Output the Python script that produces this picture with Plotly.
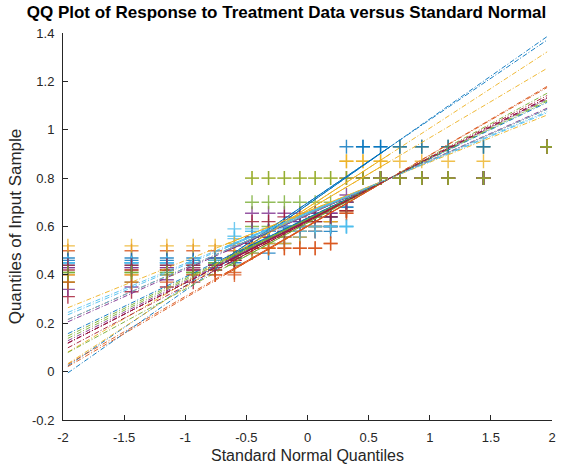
import plotly.graph_objects as go
from statistics import NormalDist

# ---- data: 21 sample columns (20 sorted values each) ----
s00 = [0.46,0.46,0.46,0.46,0.46,0.47,0.49,0.49,0.53,0.556,0.58,0.58,0.93,0.93,0.93,0.93,0.93,0.93,0.93,0.93]
s01 = [0.40,0.40,0.40,0.40,0.40,0.41,0.51,0.51,0.51,0.51,0.51,0.53,0.655,0.80,0.80,0.80,0.80,0.80,0.80,0.93]
s02 = [0.37,0.40,0.42,0.44,0.45,0.46,0.49,0.51,0.53,0.556,0.58,0.60,0.87,0.87,0.87,0.93,0.93,0.93,0.93,0.93]
s03 = [0.43,0.43,0.43,0.43,0.47,0.52,0.556,0.58,0.60,0.60,0.62,0.64,0.70,0.80,0.80,0.80,0.80,0.80,0.80,0.93]
s04 = [0.41,0.41,0.41,0.41,0.46,0.47,0.60,0.60,0.60,0.60,0.62,0.62,0.665,0.80,0.80,0.80,0.80,0.80,0.80,0.93]
s05 = [0.44,0.44,0.44,0.44,0.44,0.59,0.59,0.59,0.59,0.60,0.60,0.60,0.60,0.80,0.80,0.80,0.80,0.80,0.80,0.93]
s06 = [0.31,0.33,0.35,0.37,0.43,0.47,0.53,0.556,0.556,0.58,0.58,0.60,0.70,0.80,0.80,0.80,0.80,0.80,0.80,0.93]
s07 = [0.45,0.45,0.45,0.45,0.45,0.45,0.51,0.53,0.556,0.58,0.60,0.60,0.68,0.93,0.93,0.93,0.93,0.93,0.93,0.93]
s08 = [0.50,0.50,0.50,0.50,0.50,0.50,0.556,0.58,0.58,0.60,0.60,0.62,0.665,0.80,0.80,0.80,0.80,0.80,0.80,0.93]
s09 = [0.40,0.42,0.42,0.43,0.45,0.48,0.51,0.53,0.556,0.58,0.60,0.62,0.87,0.87,0.87,0.87,0.87,0.87,0.87,0.93]
s10 = [0.34,0.35,0.38,0.42,0.44,0.47,0.655,0.655,0.655,0.655,0.655,0.655,0.73,0.80,0.80,0.80,0.80,0.80,0.80,0.93]
s11 = [0.37,0.37,0.40,0.41,0.42,0.44,0.70,0.70,0.70,0.70,0.70,0.70,0.70,0.80,0.80,0.80,0.80,0.80,0.80,0.93]
s12 = [0.45,0.45,0.45,0.45,0.45,0.55,0.58,0.58,0.58,0.58,0.58,0.60,0.60,0.80,0.80,0.80,0.80,0.80,0.80,0.93]
s13 = [0.42,0.42,0.42,0.42,0.42,0.46,0.53,0.556,0.58,0.60,0.62,0.64,0.665,0.80,0.80,0.80,0.80,0.80,0.80,0.93]
s14 = [0.47,0.47,0.47,0.47,0.47,0.47,0.556,0.58,0.60,0.62,0.64,0.64,0.68,0.80,0.80,0.80,0.80,0.80,0.80,0.93]
s15 = [0.37,0.37,0.37,0.40,0.40,0.40,0.51,0.51,0.51,0.51,0.51,0.53,0.655,0.80,0.80,0.80,0.80,0.80,0.80,0.93]
s16 = [0.52,0.52,0.52,0.52,0.52,0.53,0.80,0.80,0.80,0.80,0.80,0.80,0.80,0.80,0.80,0.80,0.80,0.80,0.80,0.93]
s17 = [0.43,0.43,0.43,0.43,0.44,0.46,0.556,0.58,0.60,0.62,0.655,0.655,0.70,0.80,0.80,0.80,0.80,0.80,0.80,0.93]
s18 = [0.41,0.41,0.41,0.41,0.45,0.47,0.80,0.80,0.80,0.80,0.80,0.80,0.80,0.80,0.80,0.80,0.80,0.80,0.80,0.93]
s19 = [0.45,0.45,0.45,0.45,0.46,0.56,0.58,0.58,0.60,0.60,0.60,0.60,0.60,0.80,0.80,0.80,0.80,0.80,0.80,0.93]
s20 = [0.44,0.44,0.44,0.44,0.44,0.46,0.62,0.62,0.64,0.64,0.64,0.64,0.80,0.80,0.80,0.80,0.80,0.80,0.80,0.93]
series = [s00,s01,s02,s03,s04,s05,s06,s07,s08,s09,s10,s11,s12,s13,s14,s15,s16,s17,s18,s19,s20]

colors = ["#0072BD","#D95319","#EDB120","#7E2F8E","#77AC30","#4DBEEE","#A2142F"]

x_ticks = [-2,-1.5,-1,-0.5,0,0.5,1,1.5,2]
x_ticktext = ["-2","-1.5","-1","-0.5","0","0.5","1","1.5","2"]
y_ticks = [-0.2,0,0.2,0.4,0.6,0.8,1,1.2,1.4]
y_ticktext = ["-0.2","0","0.2","0.4","0.6","0.8","1","1.2","1.4"]

title_text = "QQ Plot of Response to Treatment Data versus Standard Normal"
xlabel = "Standard Normal Quantiles"
ylabel = "Quantiles of Input Sample"

# ---- qqplot computation (MATLAB style) ----
nd = NormalDist()

def prctile(v, p):
    v = sorted(v)
    n = len(v)
    pos = p / 100.0 * n + 0.5
    if pos <= 1:
        return v[0]
    if pos >= n:
        return v[-1]
    i = int(pos)
    f = pos - i
    return v[i-1] + f * (v[i] - v[i-1])

FONT = "Liberation Sans, Arial, Helvetica"

marker_traces = []
lines_solid = []
lines_dash = []
for k, s in enumerate(series):
    n = len(s)
    ys = sorted(s)
    xs = [nd.inv_cdf((i + 0.5) / n) for i in range(n)]
    col = colors[k % 7]
    marker_traces.append((k, go.Scatter(x=xs, y=ys, mode="markers",
                             marker=dict(symbol="cross-thin", size=10, opacity=0.8,
                                         line=dict(color=col, width=1.4)),
                             hoverinfo="skip", showlegend=False)))
    q1x, q3x = prctile(xs, 25), prctile(xs, 75)
    q1y, q3y = prctile(ys, 25), prctile(ys, 75)
    slope = (q3y - q1y) / (q3x - q1x)
    cy = q1y - slope * q1x
    lines_solid.append(([q1x, q3x], [q1y, q3y], col))
    lines_dash.append(([xs[0], xs[-1]], [cy + slope * xs[0], cy + slope * xs[-1]], col))

fig = go.Figure()
# draw order: yellow/green overlapping columns last so shared points blend to olive
late = [16, 18]
for k, tr in marker_traces:
    if k not in late:
        fig.add_trace(tr)
for k, tr in marker_traces:
    if k in late:
        fig.add_trace(tr)

for xx, yy, col in lines_solid:
    fig.add_trace(go.Scatter(x=xx, y=yy, mode="lines", line=dict(color=col, width=1),
                             hoverinfo="skip", showlegend=False))
for xx, yy, col in lines_dash:
    fig.add_trace(go.Scatter(x=xx, y=yy, mode="lines",
                             line=dict(color=col, width=0.9, dash="5px,2px,1px,2px"),
                             hoverinfo="skip", showlegend=False))

axis_common = dict(showgrid=False, zeroline=False, showline=True, linecolor="#262626",
                   linewidth=1, ticks="inside", ticklen=5, tickcolor="#262626",
                   tickfont=dict(family=FONT, size=13, color="#262626"),
                   mirror=False, automargin=False)

fig.update_layout(
    width=566, height=466,
    margin=dict(l=63, r=14, t=33, b=46),
    paper_bgcolor="white", plot_bgcolor="white",
    title=dict(text="<b>" + title_text + "</b>", x=286.5/566, xref="container", xanchor="center",
               y=1 - 12/466, yref="container", yanchor="middle",
               font=dict(family=FONT, size=17, color="black")),
    xaxis=dict(range=[-2, 2], tickvals=x_ticks, ticktext=x_ticktext, ticklabelstandoff=5,
               **axis_common),
    yaxis=dict(range=[-0.2, 1.4], tickvals=y_ticks, ticktext=y_ticktext, ticklabelstandoff=5,
               title=dict(text=ylabel, standoff=6,
                          font=dict(family=FONT, size=17, color="#262626")),
               **axis_common),
    annotations=[dict(text=xlabel, xref="paper", yref="paper", x=0.5, y=-35.5/387,
                      xanchor="center", yanchor="middle", showarrow=False,
                      font=dict(family=FONT, size=16, color="#262626"))],
)

fig.write_html("out.html")
